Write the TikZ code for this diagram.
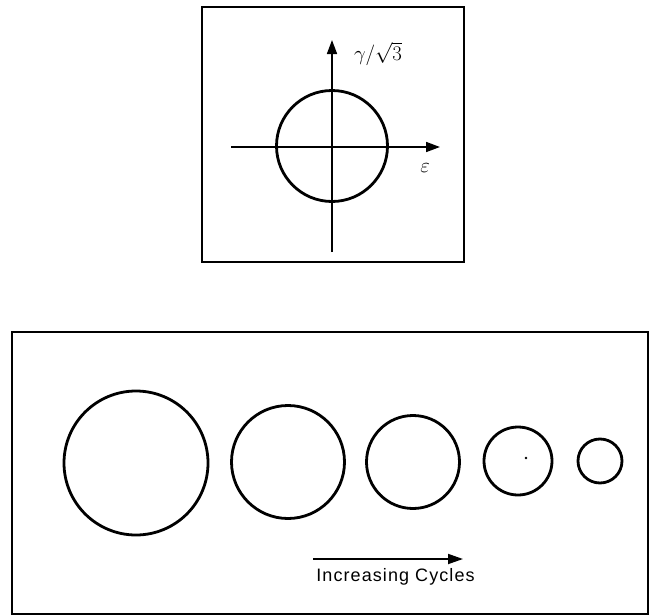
\documentclass[tikz,border=0pt]{standalone}
\usepackage{fontspec}
\usepackage{amsmath}
\usetikzlibrary{arrows.meta,positioning,calc}
\newfontfamily\captionfont{Liberation Sans}
\tikzset{
  panel/.style={draw=black, line width=1.7pt, inner sep=0pt, anchor=north west},
  ring/.style={circle, draw=black, line width=2.8pt, inner sep=0pt},
  axisline/.style={line width=1.6pt, -{Triangle[length=14pt, width=10pt]}},
  cyclearrow/.style={line width=1.8pt, -{Triangle[length=15pt, width=10pt]}}
}

\begin{document}
\begin{tikzpicture}[x=1pt, y=-1pt]
  \useasboundingbox (0,0) rectangle (654,616);

  % top panel: strain path
  \node[panel, minimum width=262pt, minimum height=255pt] (toppanel) at (201,6) {};
  \coordinate (origin) at (332,147);
  \coordinate (gtip) at (332,40);
  \coordinate (gbase) at (332,252);
  \coordinate (eleft) at (231,147);
  \coordinate (etip) at (440,147);
  \draw[axisline] (gbase) -- (gtip);
  \draw[axisline] (eleft) -- (etip);
  \node[ring, minimum size=111pt] (strainpath) at (332,146) {};
  \node[font=\fontsize{20}{24}\selectfont] (glabel) at (378,54) {$\gamma/\sqrt{3}$};
  \node[font=\fontsize{22}{26}\selectfont] (elabel) at (425,168) {$\varepsilon$};

  % bottom panel: shrinking loops
  \node[panel, minimum width=636pt, minimum height=282pt] (botpanel) at (11,331) {};
  \node[ring, minimum size=144pt] (cyc1) at (136,463) {};
  \node[ring, minimum size=113pt] (cyc2) at (288,462) {};
  \node[ring, minimum size=93pt] (cyc3) at (413,462) {};
  \node[ring, minimum size=68pt] (cyc4) at (518,461) {};
  \node[ring, minimum size=44pt] (cyc5) at (600,461) {};
  \fill (526,458) circle (1.3pt);

  \coordinate (cstart) at (313,559);
  \coordinate (cend) at (463,559);
  \draw[cyclearrow] (cstart) -- (cend);
  \node[font={\captionfont\addfontfeatures{LetterSpace=6}\fontsize{18}{21}\selectfont}, below=6pt of $(cstart)!0.55!(cend)$] (cyclelabel) {Increasing Cycles};
\end{tikzpicture}
\end{document}
